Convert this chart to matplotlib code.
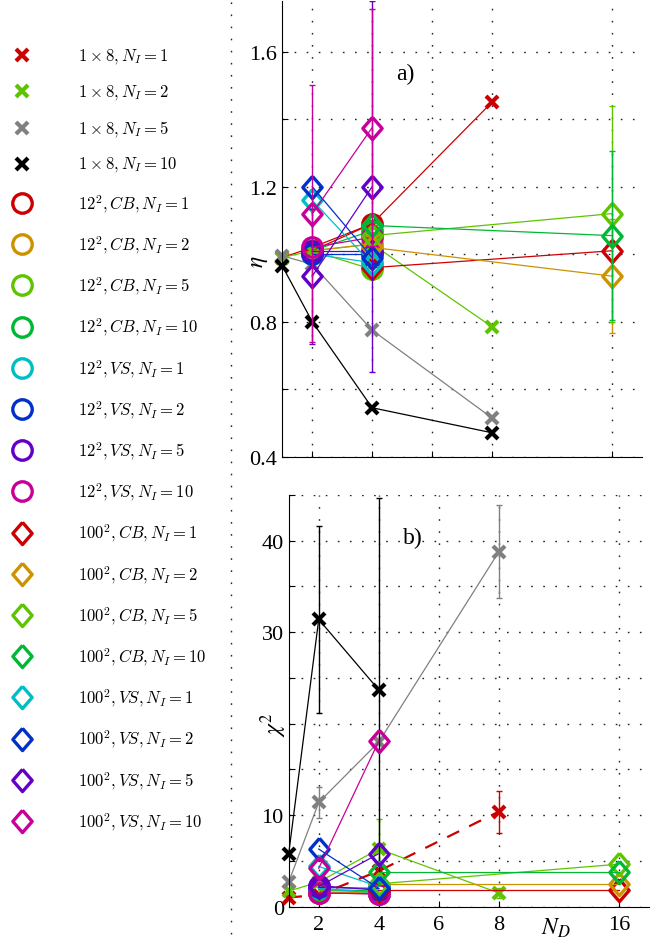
import numpy as np
import matplotlib
matplotlib.use("Agg")
import matplotlib.pyplot as plt
from matplotlib.lines import Line2D

plt.rcParams["mathtext.fontset"] = "cm"
plt.rcParams["font.family"] = ["Liberation Serif", "DejaVu Serif"]

# N_D values and where they sit on the axis (16 is drawn at position 12)
nd_pos = {1: 1, 2: 2, 4: 4, 8: 8, 16: 12}
xtick_pos = [2, 4, 6, 8, 12]
xtick_labels = ["2", "4", "6", "8", "16"]

red, gold, lime, green = "#cc0000", "#cc9200", "#5fc400", "#00b833"
cyan, blue, violet, magenta = "#00bfc4", "#0030c8", "#6200c8", "#c8009a"

labels = [r"$1\times 8, N_I=1$", r"$1\times 8, N_I=2$", r"$1\times 8, N_I=5$", r"$1\times 8, N_I=10$",
          r"$12^2, CB, N_I=1$", r"$12^2, CB, N_I=2$", r"$12^2, CB, N_I=5$", r"$12^2, CB, N_I=10$",
          r"$12^2, VS, N_I=1$", r"$12^2, VS, N_I=2$", r"$12^2, VS, N_I=5$", r"$12^2, VS, N_I=10$",
          r"$100^2, CB, N_I=1$", r"$100^2, CB, N_I=2$", r"$100^2, CB, N_I=5$", r"$100^2, CB, N_I=10$",
          r"$100^2, VS, N_I=1$", r"$100^2, VS, N_I=2$", r"$100^2, VS, N_I=5$", r"$100^2, VS, N_I=10$"]
colors = [red, lime, "#808080", "k",
          red, gold, lime, green,
          cyan, blue, violet, magenta,
          red, gold, lime, green,
          cyan, blue, violet, magenta]
kinds = ["x"] * 4 + ["o"] * 8 + ["d"] * 8

nd = [[1, 2, 4, 8]] * 4 + [[2, 4]] * 8 + [[4, 16]] * 4 + [[2, 4]] * 4

# efficiency eta
eta = [[0.99, 1.02, 1.09, 1.45], [0.99, 1.01, 1.03, 0.785], [0.995, 0.97, 0.775, 0.515], [0.965, 0.80, 0.545, 0.471],
       [1.01, 1.09], [1.01, 1.03], [1.01, 0.955], [1.01, 1.07],
       [1.00, 0.975], [1.00, 1.00], [1.01, 1.01], [1.02, 1.05],
       [0.96, 1.01], [1.02, 0.935], [1.055, 1.12], [1.085, 1.055],
       [1.16, 0.97], [1.20, 0.99], [0.935, 1.20], [1.12, 1.375]]
eta_err = [[0, 0, 0, 0], [0, 0, 0, 0], [0, 0, 0, 0], [0, 0, 0, 0],
           [0, 0], [0, 0], [0, 0], [0, 0],
           [0, 0], [0, 0], [0, 0], [0, 0],
           [0, 0], [0, 0.17], [0, 0.32], [0, 0.25],
           [0, 0], [0, 0], [0.2, 0.55], [0.38, 0.35]]

# chi^2
chi = [[1.0, 1.3, 3.9, 10.4], [1.7, 2.7, 6.3, 1.5], [2.7, 11.4, 18.0, 38.8], [5.8, 31.4, 23.7, np.nan],
       [1.5, 1.4], [1.6, 1.5], [1.8, 1.6], [1.9, 1.7],
       [2.0, 1.5], [2.1, 2.0], [2.3, 1.8], [1.5, 1.4],
       [1.85, 1.85], [2.5, 2.5], [2.5, 4.65], [3.75, 3.75],
       [4.4, 2.2], [6.3, 2.0], [2.2, 5.8], [4.2, 18.1]]
chi_err = [[0, 0, 0, 2.3], [0, 0.6, 3.3, 0.5], [0, 1.7, 0, 5.1], [0, 10.2, 21.0, 0],
           [0, 0], [0, 0], [0, 0], [0, 0],
           [0, 0], [0, 0], [0, 0], [0, 0],
           [0, 0], [0, 0], [0, 0], [0, 0],
           [0, 0], [0, 0], [0, 0], [0, 0]]

diamond = [(0, 1.15), (1, 0), (0, -1.15), (-1, 0), (0, 1.15)]


def marker_style(kind, color):
    if kind == "x":
        return dict(marker="x", ms=8, mew=3, color=color)
    if kind == "o":
        return dict(marker="o", ms=14, mew=2.4, mfc="none", mec=color, color=color)
    return dict(marker=diamond, ms=16, mew=2.4, mfc="none", mec=color, color=color)


fig = plt.figure(figsize=(6.67, 9.45), dpi=100)
ax1 = fig.add_axes([282.3 / 667, 1 - 457.7 / 945, (641.6 - 282.3) / 667, (457.7 - 2) / 945])
ax2 = fig.add_axes([288.7 / 667, 1 - 907.7 / 945, (649 - 288.7) / 667, (907.7 - 496) / 945])

grid_kw = dict(color="0.15", linestyle=(0, (1.2, 7.5)), linewidth=1.0)

for i in range(len(labels)):
    x = [nd_pos[n] for n in nd[i]]
    st = marker_style(kinds[i], colors[i])
    ax1.plot(x, eta[i], lw=0.9, clip_on=False, **st)
    ls = (0, (6, 5)) if i == 0 else "-"
    lw = 1.6 if i == 0 else 0.9
    ax2.plot(x, chi[i], lw=lw, ls=ls, clip_on=False, **st)
    for ax, vals, errs in ((ax1, eta[i], eta_err[i]), (ax2, chi[i], chi_err[i])):
        for xx, v, e in zip(x, vals, errs):
            if e > 0:
                ax.errorbar([xx], [v], yerr=[e], fmt="none", ecolor=colors[i],
                            elinewidth=1.0, capsize=2.5)

for ax in (ax1, ax2):
    ax.set_xlim(1, 13)
    ax.set_xticks(xtick_pos)
    ax.spines["top"].set_visible(False)
    ax.spines["right"].set_visible(False)
    ax.tick_params(direction="in", length=4, labelsize=16, width=0.8)
    ax.grid(True, **grid_kw)
    ax.set_axisbelow(True)

ax1.set_ylim(0.4, 1.75)
yt1 = [0.4, 0.6, 0.8, 1.0, 1.2, 1.4, 1.6]
ax1.set_yticks(yt1)
ax1.set_yticklabels(["0.4", "", "0.8", "", "1.2", "", "1.6"])
ax1.set_xticklabels([])

ax2.set_ylim(0, 45)
yt2 = [0, 5, 10, 15, 20, 25, 30, 35, 40, 45]
ax2.set_yticks(yt2)
ax2.set_yticklabels(["0", "", "10", "", "", "", "30", "", "40", ""])
ax2.set_xticklabels(xtick_labels)
ax2.tick_params(axis="x", pad=6)

ax1.text(5.1, 1.536, "a)", ha="center", va="center", fontsize=17)
ax2.text(5.13, 40.4, "b)", ha="center", va="center", fontsize=17)

fig.text(260 / 667, 1 - 262 / 945, r"$\eta$", rotation=90, ha="center", va="center",
         fontsize=17, math_fontfamily="stix")
fig.text(274 / 667, 1 - 725 / 945, r"$\chi^2$", rotation=90, ha="center", va="center",
         fontsize=17, math_fontfamily="stix")
fig.text(556 / 667, 1 - 928 / 945, r"$N_D$", ha="center", va="center",
         fontsize=17, math_fontfamily="stix")

# dotted vertical rule between legend and plots
fig.add_artist(Line2D([231 / 667, 231 / 667], [1 - 935 / 945, 1.0], transform=fig.transFigure,
                      **grid_kw))

# legend column
for i, lab in enumerate(labels):
    ypx = 56 + 36.3 * i if i < 4 else 204 + 41.2 * (i - 4)
    yf = 1 - ypx / 945
    st = marker_style(kinds[i], colors[i])
    fig.add_artist(Line2D([22 / 667], [yf], transform=fig.transFigure, ls="none", **st))
    fig.text(78 / 667, yf, lab, ha="left", va="center", fontsize=12)

fig.savefig("out.png", dpi=100)
